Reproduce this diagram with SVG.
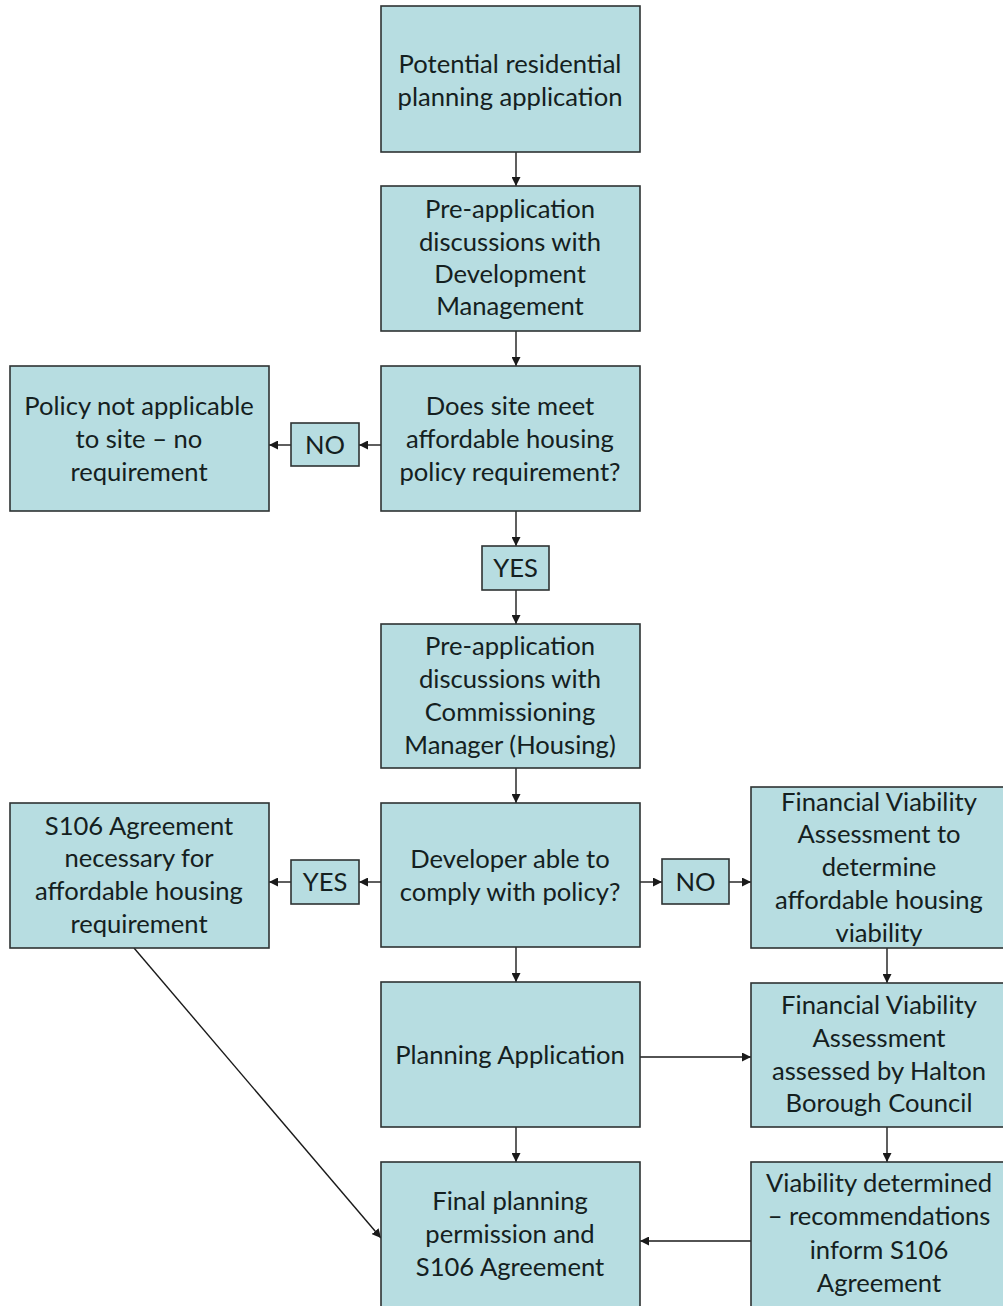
<svg xmlns="http://www.w3.org/2000/svg" width="1003" height="1306" viewBox="0 0 1003 1306">
<style>
.box{fill:#b7dde1;stroke:#2e3333;stroke-width:1.6}
.t{font-family:Lato,"Open Sans","Liberation Sans",sans-serif;font-size:25.6px;fill:#142020;text-anchor:middle}
.c{stroke:#1a1a1a;stroke-width:1.4;fill:none;marker-end:url(#ah)}
</style>
<defs>
<marker id="ah" viewBox="0 0 10 10" refX="10" refY="5" markerWidth="9" markerHeight="9" markerUnits="userSpaceOnUse" orient="auto">
<path d="M0,0 L10,5 L0,10 z" fill="#1a1a1a"/>
</marker>
</defs>
<rect width="1003" height="1306" fill="#ffffff"/>

<g id="connectors">
<line class="c" x1="516" y1="152" x2="516" y2="186"/>
<line class="c" x1="516" y1="331" x2="516" y2="366"/>
<line class="c" x1="381" y1="445" x2="359" y2="445"/>
<line class="c" x1="291" y1="445" x2="269" y2="445"/>
<line class="c" x1="516" y1="511" x2="516" y2="546"/>
<line class="c" x1="516" y1="590" x2="516" y2="624"/>
<line class="c" x1="516" y1="768" x2="516" y2="803"/>
<line class="c" x1="381" y1="882" x2="359" y2="882"/>
<line class="c" x1="291" y1="882" x2="269" y2="882"/>
<line class="c" x1="640" y1="882" x2="662" y2="882"/>
<line class="c" x1="729" y1="882" x2="751" y2="882"/>
<line class="c" x1="516" y1="947" x2="516" y2="982"/>
<line class="c" x1="887" y1="948" x2="887" y2="983"/>
<line class="c" x1="640" y1="1057" x2="751" y2="1057"/>
<line class="c" x1="887" y1="1127" x2="887" y2="1162"/>
<line class="c" x1="516" y1="1127" x2="516" y2="1162"/>
<line class="c" x1="751" y1="1241" x2="640" y2="1241"/>
<line class="c" x1="134" y1="948" x2="381" y2="1238"/>
</g>

<g id="n1"><rect class="box" x="381" y="6" width="259" height="146"/>
<text class="t" x="510" y="73">Potential residential</text>
<text class="t" x="510" y="106">planning application</text></g>

<g id="n2"><rect class="box" x="381" y="186" width="259" height="145"/>
<text class="t" x="510" y="218">Pre-application</text>
<text class="t" x="510" y="251">discussions with</text>
<text class="t" x="510" y="283">Development</text>
<text class="t" x="510" y="315">Management</text></g>

<g id="n3"><rect class="box" x="381" y="366" width="259" height="145"/>
<text class="t" x="510" y="415">Does site meet</text>
<text class="t" x="510" y="448">affordable housing</text>
<text class="t" x="510" y="481">policy requirement?</text></g>

<g id="n_policy"><rect class="box" x="10" y="366" width="259" height="145"/>
<text class="t" x="139" y="415">Policy not applicable</text>
<text class="t" x="139" y="448">to site – no</text>
<text class="t" x="139" y="481">requirement</text></g>

<g id="l_no1"><rect class="box" x="291" y="423" width="68" height="43"/>
<text class="t" x="325" y="454">NO</text></g>

<g id="l_yes1"><rect class="box" x="482" y="546" width="67" height="44"/>
<text class="t" x="515.5" y="577">YES</text></g>

<g id="n4"><rect class="box" x="381" y="624" width="259" height="144"/>
<text class="t" x="510" y="655">Pre-application</text>
<text class="t" x="510" y="688">discussions with</text>
<text class="t" x="510" y="721">Commissioning</text>
<text class="t" x="510" y="754">Manager (Housing)</text></g>

<g id="n5"><rect class="box" x="381" y="803" width="259" height="144"/>
<text class="t" x="510" y="868">Developer able to</text>
<text class="t" x="510" y="901">comply with policy?</text></g>

<g id="n_s106"><rect class="box" x="10" y="803" width="259" height="145"/>
<text class="t" x="139" y="835">S106 Agreement</text>
<text class="t" x="139" y="867">necessary for</text>
<text class="t" x="139" y="900">affordable housing</text>
<text class="t" x="139" y="933">requirement</text></g>

<g id="l_yes2"><rect class="box" x="291" y="860" width="68" height="44"/>
<text class="t" x="325" y="891">YES</text></g>

<g id="l_no2"><rect class="box" x="662" y="859" width="67" height="45"/>
<text class="t" x="695.5" y="891">NO</text></g>

<g id="n_fva1"><rect class="box" x="751" y="787" width="258" height="161"/>
<text class="t" x="879" y="811">Financial Viability</text>
<text class="t" x="879" y="843">Assessment to</text>
<text class="t" x="879" y="876">determine</text>
<text class="t" x="879" y="909">affordable housing</text>
<text class="t" x="879" y="942">viability</text></g>

<g id="n_plan"><rect class="box" x="381" y="982" width="259" height="145"/>
<text class="t" x="510" y="1064">Planning Application</text></g>

<g id="n_fva2"><rect class="box" x="751" y="983" width="258" height="144"/>
<text class="t" x="879" y="1014">Financial Viability</text>
<text class="t" x="879" y="1047">Assessment</text>
<text class="t" x="879" y="1080">assessed by Halton</text>
<text class="t" x="879" y="1112">Borough Council</text></g>

<g id="n_final"><rect class="box" x="381" y="1162" width="259" height="150"/>
<text class="t" x="510" y="1210">Final planning</text>
<text class="t" x="510" y="1243">permission and</text>
<text class="t" x="510" y="1276">S106 Agreement</text></g>

<g id="n_viab"><rect class="box" x="751" y="1162" width="258" height="150"/>
<text class="t" x="879" y="1192">Viability determined</text>
<text class="t" x="879" y="1225">– recommendations</text>
<text class="t" x="879" y="1259">inform S106</text>
<text class="t" x="879" y="1292">Agreement</text></g>
</svg>
